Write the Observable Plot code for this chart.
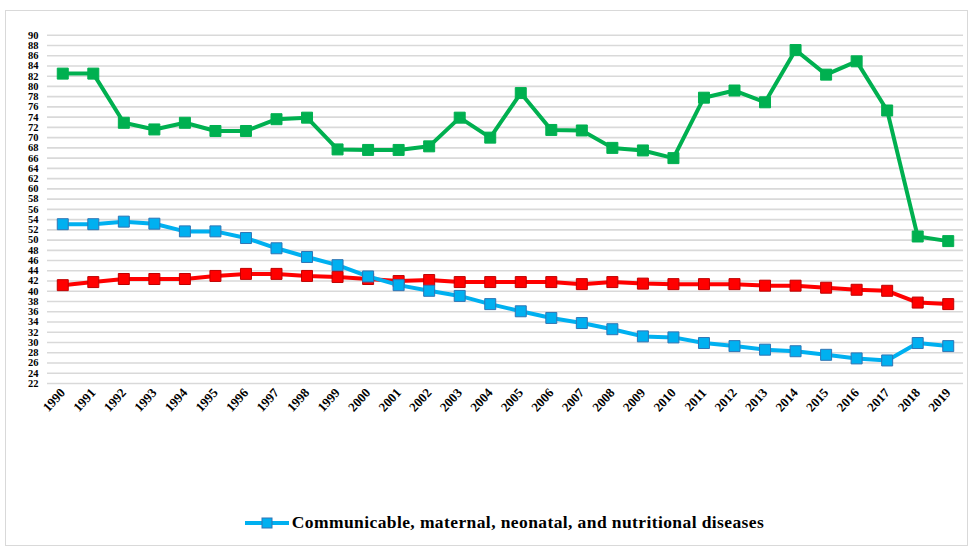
<!DOCTYPE html>
<html>
<head>
<meta charset="utf-8">
<script src="https://cdn.jsdelivr.net/npm/d3@7"></script>
<script src="https://cdn.jsdelivr.net/npm/@observablehq/plot@0.6"></script>
<style>
  html, body { margin: 0; padding: 0; background: #fff; }
  #page { position: relative; width: 975px; height: 549px; overflow: hidden; }
  #frame { position: absolute; left: 5px; top: 10px; width: 963px; height: 536px; border: 1px solid #d9d9d9; box-sizing: border-box; }
  #chart { position: absolute; left: 0; top: 0; }
  #legend { position: absolute; left: 0; top: 512px; width: 975px; display: flex; justify-content: center; align-items: center;
            font-family: 'Times New Roman', 'Liberation Serif', 'DejaVu Serif', serif; font-weight: bold; font-size: 17.5px; letter-spacing: 0.4px; color: #000; }
  #legend svg { margin-right: 3px; margin-left: 34px; }
  #chart text { font-family: 'Times New Roman', 'Liberation Serif', 'DejaVu Serif', serif; }
</style>
</head>
<body>
<div id="page">
  <div id="frame"></div>
  <div id="chart"></div>
  <div id="legend"></div>
</div>
<script>
const years = d3.range(1990, 2020);
const seriesNames = ["Communicable, maternal, neonatal, and nutritional diseases", "red series", "green series"];
const communicable = [53.1, 53.1, 53.6, 53.2, 51.7, 51.7, 50.4, 48.4, 46.7, 45.1, 42.9, 41.2, 40.1, 39.1, 37.5, 36.1, 34.8, 33.8, 32.6, 31.2, 31.0, 29.9, 29.3, 28.6, 28.3, 27.6, 26.9, 26.5, 29.9, 29.3];
const redSeries = [41.2, 41.8, 42.4, 42.4, 42.4, 43.0, 43.4, 43.4, 43.0, 42.8, 42.4, 42.0, 42.2, 41.8, 41.8, 41.8, 41.8, 41.4, 41.8, 41.5, 41.4, 41.4, 41.4, 41.1, 41.1, 40.7, 40.3, 40.1, 37.8, 37.5];
const greenSeries = [82.5, 82.5, 72.9, 71.6, 72.9, 71.3, 71.3, 73.6, 73.9, 67.7, 67.6, 67.6, 68.3, 73.9, 70.0, 78.7, 71.5, 71.4, 68.0, 67.5, 66.0, 77.8, 79.2, 76.9, 87.1, 82.3, 84.9, 75.3, 50.7, 49.8];
const yTicks = d3.range(22, 91, 2);
const colors = ["#00b0f0", "#ff0000", "#00b050"];
const strokes = ["#2f75b5", "#c00000", "#00b050"];

const allValues = [communicable, redSeries, greenSeries];
const data = [];
allValues.forEach((vals, s) => vals.forEach((v, i) => data.push({year: years[i], value: v, series: seriesNames[s], idx: s})));

const font = "'Times New Roman', 'Liberation Serif', 'DejaVu Serif', serif";
const marks = [
  Plot.ruleY(yTicks, {stroke: "#d9d9d9", strokeWidth: 1.6}),
];
[2, 1, 0].forEach(s => {
  const d = data.filter(r => r.idx === s);
  marks.push(Plot.line(d, {x: "year", y: "value", stroke: colors[s], strokeWidth: 4}));
  marks.push(Plot.dot(d, {x: "year", y: "value", symbol: "square", r: 6.2, fill: colors[s], stroke: strokes[s], strokeWidth: 1}));
});
marks.push(Plot.axisY(yTicks, {tickSize: 0, tickPadding: 9, fontSize: 10.5, fontWeight: "bold", fill: "#000", label: null, fontFamily: font}));
marks.push(Plot.axisX(years, {tickSize: 0, tickPadding: 7, tickRotate: -48, fontSize: 13, fontWeight: "bold", fill: "#000", label: null, fontFamily: font, tickFormat: d => String(d)}));

const chart = Plot.plot({
  width: 975,
  height: 490,
  marginLeft: 47,
  marginRight: 12,
  marginTop: 34.7,
  marginBottom: 107,
  style: {fontFamily: font, background: "transparent", color: "#000"},
  x: {type: "linear", domain: [1989.5, 2019.5]},
  y: {domain: [22, 90]},
  marks
});
document.getElementById("chart").appendChild(chart);

// legend (only the first series is visible in the reference)
const lg = d3.select("#legend");
const sw = lg.append("svg").attr("width", 44).attr("height", 14);
sw.append("line").attr("x1", 0).attr("x2", 44).attr("y1", 7).attr("y2", 7).attr("stroke", colors[0]).attr("stroke-width", 4);
sw.append("rect").attr("x", 17).attr("y", 2).attr("width", 10).attr("height", 10).attr("fill", colors[0]).attr("stroke", strokes[0]);
lg.append("span").text(seriesNames[0]);
</script>
</body>
</html>
